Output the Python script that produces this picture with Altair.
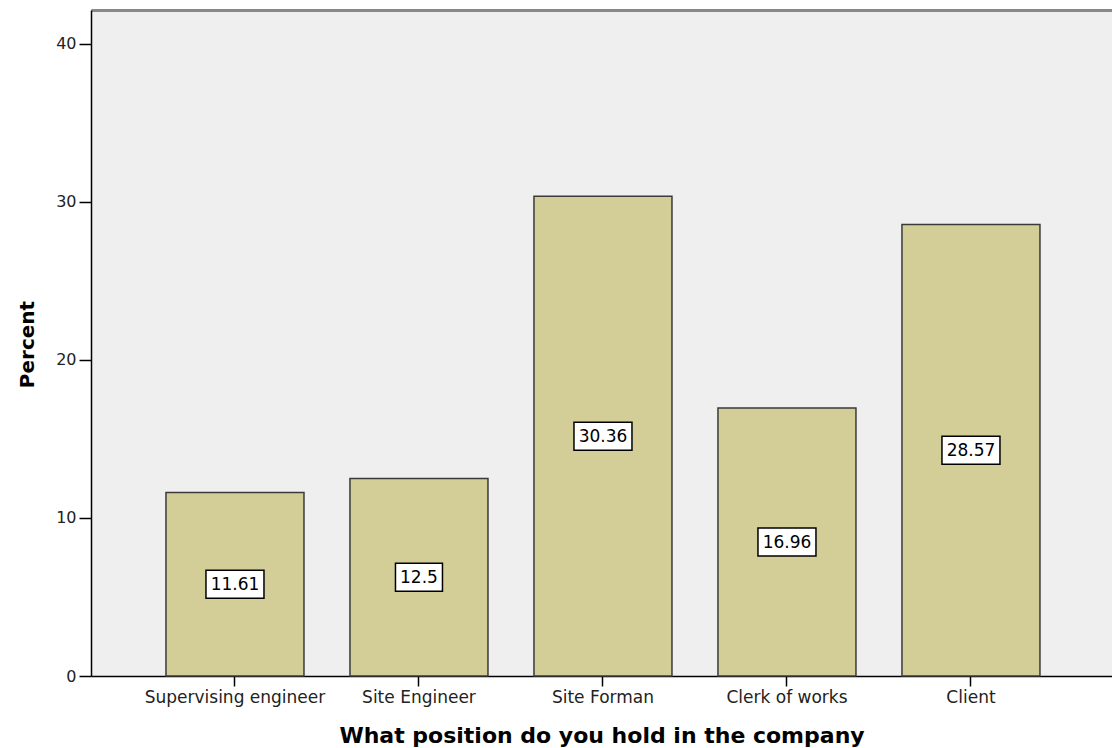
import altair as alt
import pandas as pd

categories = ["Supervising engineer", "Site Engineer", "Site Forman", "Clerk of works", "Client"]
percents = [11.61, 12.5, 30.36, 16.96, 28.57]
labels = ["11.61", "12.5", "30.36", "16.96", "28.57"]
y_ticks = [0, 10, 20, 30, 40]

df = pd.DataFrame({"position": categories, "percent": percents, "label": labels})

x_scale = alt.Scale(domain=categories, paddingInner=0.25, paddingOuter=0.3995, align=0.51)
y_scale = alt.Scale(domain=[0, 42.15], nice=False, zero=True)

base = alt.Chart(df)

bars = base.mark_bar(fill="#D3CE97", stroke="#3a3a3a", strokeWidth=1.5).encode(
    x=alt.X(
        "position:N", sort=categories, scale=x_scale,
        axis=alt.Axis(
            title="What position do you hold in the company",
            titleFont="DejaVu Sans", titleFontSize=22, titleFontWeight="bold",
            titleColor="black", titleY=66, titleBaseline="alphabetic",
            labelAngle=0, labelFont="DejaVu Sans", labelFontSize=17, labelColor="#222222",
            labelLimit=400, labelPadding=3, tickSize=10, tickColor="black", tickWidth=1.5,
            domainColor="black", domainWidth=1.5,
        ),
    ),
    y=alt.Y(
        "percent:Q", scale=y_scale,
        axis=alt.Axis(
            values=y_ticks, title="Percent",
            titleFont="DejaVu Sans", titleFontSize=20, titleFontWeight="bold",
            titleColor="black", titleAngle=270, titleX=-58, titleY=334,
            titleAlign="center", titleBaseline="alphabetic",
            labelFont="DejaVu Sans", labelFontSize=16, labelColor="#222222",
            labelPadding=3, tickSize=12, tickColor="black", tickWidth=1.5,
            domainColor="black", domainWidth=1.5, grid=False,
        ),
    ),
)

def box_layer(n_chars, w):
    return base.transform_filter(f"length(datum.label) == {n_chars}").transform_calculate(
        mid="datum.percent / 2"
    ).mark_bar(
        width=w, fill="white", stroke="black", strokeWidth=1.5, yOffset=14, y2Offset=-14
    ).encode(
        x=alt.X("position:N", sort=categories, scale=x_scale, axis=None),
        y=alt.Y("mid:Q", scale=y_scale, axis=None),
        y2="mid:Q",
    )

box5 = box_layer(5, 58)
box4 = box_layer(4, 47)

texts = base.transform_calculate(mid="datum.percent / 2").mark_text(
    font="DejaVu Sans", fontSize=17, color="black", baseline="middle", align="center", dy=1
).encode(
    x=alt.X(
        "position:N", sort=categories, scale=x_scale,
        axis=alt.Axis(orient="top", title=None, labels=False, ticks=False,
                      domainColor="#888888", domainWidth=3),
    ),
    y=alt.Y("mid:Q", scale=y_scale, axis=None),
    text="label:N",
)

chart = alt.layer(bars, box5, box4, texts).resolve_axis(
    x="independent", y="independent"
).properties(
    width=1021, height=666,
    padding={"left": 91, "top": 10, "right": 0, "bottom": 72},
    autosize=alt.AutoSizeParams(type="none"),
    background="white",
).configure_view(stroke=None, fill="#EFEFEF")

chart.save("out.html", embed_options={"renderer": "svg", "actions": False})
